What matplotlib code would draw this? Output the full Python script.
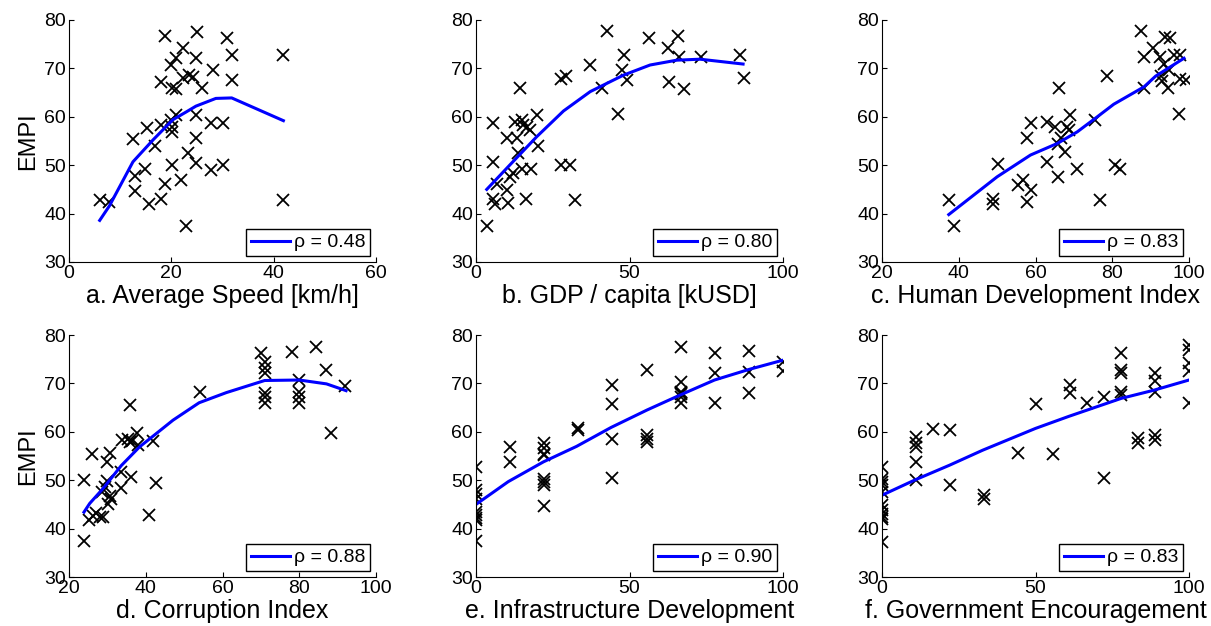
import matplotlib
matplotlib.use("Agg")
import matplotlib.pyplot as plt

plt.rcParams['font.family'] = ['Liberation Sans', 'DejaVu Sans']

# ---------------- data ----------------
a_x = [6.0, 7.9, 18.8, 25.0, 30.8, 22.3, 20.9, 24.8, 31.8, 41.9, 19.9, 28.2, 22.2, 23.5, 24.2,
       18.0, 31.8, 20.1, 20.9, 26.0, 20.9, 24.8, 19.9, 18.0, 27.7, 30.0, 15.3, 20.1, 20.1, 12.5,
       24.8, 16.9, 23.2, 14.9, 24.8, 20.1, 30.0, 27.7, 12.9, 21.9, 18.8, 12.9, 18.0, 15.7, 41.9, 22.9]
a_y = [42.9, 42.4, 76.6, 77.6, 76.3, 74.3, 72.1, 72.1, 72.8, 72.8, 70.7, 69.7, 68.1, 68.6, 68.3,
       67.2, 67.7, 66.0, 65.7, 65.9, 60.3, 60.3, 59.4, 58.3, 58.8, 58.8, 57.6, 57.8, 56.9, 55.5,
       55.7, 54.0, 52.6, 49.3, 50.5, 50.0, 50.1, 49.1, 47.8, 47.0, 46.2, 44.7, 43.0, 41.9, 42.9, 37.4]
a_fit_x = [6.0, 7.9, 12.5, 16.4, 20.3, 22.9, 24.8, 28.7, 31.8, 41.9]
a_fit_y = [38.6, 41.6, 50.7, 55.2, 59.4, 61.0, 62.2, 63.8, 63.9, 59.2]

b_x = [3.5, 5.4, 5.4, 5.4, 6.2, 6.7, 10.0, 10.0, 10.5, 11.1, 12.2, 12.7, 13.3, 13.8, 14.3,
       14.9, 15.4, 16.5, 17.6, 14.9, 16.2, 17.8, 20.0, 20.3, 27.7, 29.3, 27.7, 30.7, 32.3, 37.0,
       41.2, 42.6, 46.4, 47.7, 48.3, 49.1, 56.5, 62.7, 65.8, 66.0, 63.0, 67.6, 73.3, 85.9, 87.2]
b_y = [37.4, 58.8, 50.6, 43.0, 41.9, 46.2, 55.7, 44.8, 42.2, 47.6, 48.3, 59.0, 55.7, 52.6, 65.9,
       59.3, 58.3, 57.9, 57.2, 49.3, 43.0, 49.3, 60.3, 54.0, 67.9, 68.4, 50.0, 50.1, 42.9, 70.7,
       65.9, 77.7, 60.5, 69.7, 72.8, 67.6, 76.3, 74.3, 76.6, 72.3, 67.1, 65.7, 72.3, 72.8, 68.1]
b_fit_x = [3.5, 11.1, 19.8, 28.5, 37.2, 48.0, 56.7, 65.4, 73.0, 87.0]
b_fit_y = [45.0, 50.1, 55.9, 61.2, 65.2, 68.6, 70.7, 71.7, 71.9, 70.9]

c_x = [37.4, 38.7, 48.9, 48.9, 50.3, 55.5, 56.8, 57.7, 57.7, 58.7, 58.7, 62.9, 63.0, 65.0, 66.1,
       65.8, 65.8, 66.7, 67.8, 68.3, 69.0, 68.7, 70.9, 75.5, 76.8, 78.7, 80.7, 82.0, 87.4, 88.3,
       88.3, 90.7, 92.4, 92.6, 93.0, 93.5, 93.7, 95.0, 94.8, 94.5, 96.1, 97.7, 97.4, 97.7, 99.1]
c_y = [42.8, 37.4, 43.1, 41.9, 50.3, 46.0, 46.9, 55.7, 42.3, 44.8, 58.8, 59.0, 50.6, 57.9, 65.9,
       54.3, 47.6, 55.7, 52.8, 57.8, 60.3, 57.2, 49.3, 59.3, 42.9, 68.4, 50.1, 49.2, 77.8, 72.3,
       65.9, 74.3, 72.3, 68.4, 67.4, 71.0, 76.4, 76.3, 69.7, 65.9, 72.8, 72.8, 60.5, 67.9, 67.6]
c_fit_x = [37.4, 50.0, 58.7, 65.7, 70.9, 76.1, 80.4, 88.3, 91.3, 98.7]
c_fit_y = [39.8, 47.6, 52.1, 54.5, 56.9, 60.0, 62.6, 66.2, 68.4, 72.1]

d_x = [23.9, 23.8, 25.1, 26.0, 26.3, 27.0, 28.0, 28.9, 28.7, 29.5, 29.9, 29.9, 30.1, 30.6, 30.8,
       30.9, 33.6, 33.6, 33.9, 35.8, 35.4, 35.8, 36.3, 36.1, 37.8, 38.0, 40.9, 41.9, 42.8, 54.1,
       70.0, 71.1, 71.1, 71.1, 71.1, 71.1, 71.1, 78.0, 80.0, 80.0, 80.0, 80.0, 84.3, 87.0, 88.2, 91.9]
d_y = [37.4, 50.0, 41.7, 55.5, 42.6, 43.3, 42.4, 42.4, 47.6, 48.6, 53.8, 49.8, 45.1, 46.8, 55.7,
       46.2, 51.7, 48.3, 58.3, 65.5, 58.6, 57.8, 58.1, 50.7, 59.7, 57.2, 42.8, 58.0, 49.5, 68.3,
       76.3, 74.5, 73.1, 72.2, 68.0, 67.1, 65.9, 76.4, 70.7, 68.3, 67.1, 66.0, 77.6, 72.8, 59.7, 69.4]
d_fit_x = [23.9, 25.4, 28.9, 33.6, 38.4, 41.9, 47.1, 53.9, 61.0, 71.0, 80.0, 87.1, 92.2]
d_fit_y = [43.4, 45.2, 48.3, 53.0, 56.9, 59.1, 62.4, 66.0, 68.1, 70.6, 70.7, 69.9, 68.5]

e_x = [0, 0, 0, 0, 0, 0, 0, 0, 0, 11.1, 11.1, 22.2, 22.2, 22.2, 22.2, 22.2, 22.2, 22.2, 22.2,
       33.3, 33.3, 44.4, 44.4, 44.4, 44.4, 55.6, 55.6, 55.6, 55.6, 66.7, 66.7, 66.7, 66.7, 66.7,
       66.7, 66.7, 77.8, 77.8, 77.8, 88.9, 88.9, 88.9, 100, 100]
e_y = [52.8, 47.9, 47.2, 46.2, 43.4, 42.8, 42.1, 41.7, 37.4, 56.9, 53.8, 57.7, 56.7, 55.4, 55.2,
       50.3, 49.7, 49.0, 44.6, 60.7, 60.3, 69.7, 65.7, 58.6, 50.5, 72.8, 59.3, 58.6, 57.9, 77.6,
       70.3, 68.3, 67.8, 67.2, 65.9, 68.1, 76.3, 72.1, 65.9, 68.1, 76.6, 72.3, 74.5, 72.6]
e_fit_x = [0, 10.5, 22.0, 32.8, 44.0, 55.7, 66.5, 77.7, 89.0, 100]
e_fit_y = [45.0, 49.7, 53.8, 57.0, 60.9, 64.5, 67.6, 70.7, 72.9, 74.8]

f_x = [0, 0, 0, 0, 0, 0, 0, 0, 0, 0, 0, 11.1, 11.1, 11.1, 11.1, 11.1, 16.7, 22.2, 22.2, 33.3,
       33.3, 44.4, 50.0, 55.6, 61.1, 61.1, 66.7, 72.2, 72.2, 77.8, 77.8, 77.8, 77.8, 77.8, 83.3,
       83.3, 88.9, 88.9, 88.9, 88.9, 88.9, 100, 100, 100, 100, 100]
f_y = [52.8, 50.3, 49.7, 49.0, 47.6, 44.8, 43.8, 43.1, 42.4, 41.9, 37.2, 59.0, 57.6, 56.8, 53.8,
       50.1, 60.6, 60.3, 49.1, 46.9, 46.2, 55.7, 65.7, 55.4, 69.7, 68.1, 65.9, 67.1, 50.5, 76.3,
       72.8, 72.1, 68.3, 67.6, 58.8, 57.7, 72.2, 70.5, 68.3, 59.3, 58.4, 77.9, 76.9, 74.3, 72.6, 65.9]
f_fit_x = [0, 10.9, 22.0, 32.8, 50.0, 60.9, 77.9, 88.6, 100]
f_fit_y = [46.9, 50.1, 53.1, 56.2, 60.7, 63.2, 66.9, 68.6, 70.7]

rhos = ['0.48', '0.80', '0.83', '0.88', '0.90', '0.83']
xlabels = ['a. Average Speed [km/h]', 'b. GDP / capita [kUSD]', 'c. Human Development Index',
           'd. Corruption Index', 'e. Infrastructure Development', 'f. Government Encouragement']
xlims = [(0, 60), (0, 100), (20, 100), (20, 100), (0, 100), (0, 100)]
xticks = [[0, 20, 40, 60], [0, 50, 100], [20, 40, 60, 80, 100], [20, 40, 60, 80, 100],
          [0, 50, 100], [0, 50, 100]]
yticks = [30, 40, 50, 60, 70, 80]

panels = [(a_x, a_y, a_fit_x, a_fit_y), (b_x, b_y, b_fit_x, b_fit_y), (c_x, c_y, c_fit_x, c_fit_y),
          (d_x, d_y, d_fit_x, d_fit_y), (e_x, e_y, e_fit_x, e_fit_y), (f_x, f_y, f_fit_x, f_fit_y)]

# ---------------- figure ----------------
W, H = 1211, 626
fig = plt.figure(figsize=(W / 100, H / 100), dpi=100)
lefts = [69, 476, 882]
tops = [20, 335]
aw, ah = 307, 242

for i, (px, py, fx, fy) in enumerate(panels):
    r, c = divmod(i, 3)
    ax = fig.add_axes([lefts[c] / W, 1 - (tops[r] + ah) / H, aw / W, ah / H])
    ax.plot(px, py, linestyle='none', marker='x', color='black', markersize=8, markeredgewidth=1.3)
    ax.plot(fx, fy, color='blue', linewidth=2.2, label='\u03c1 = ' + rhos[i])
    ax.set_xlim(*xlims[i])
    ax.set_ylim(30, 80)
    ax.set_xticks(xticks[i])
    ax.set_yticks(yticks)
    for s in ['top', 'right']:
        ax.spines[s].set_visible(False)
    for s in ['left', 'bottom']:
        ax.spines[s].set_linewidth(0.8)
    ax.tick_params(direction='in', length=3.5, width=0.8, labelsize=14, pad=2)
    ax.set_xlabel(xlabels[i], fontsize=18, labelpad=1.5)
    if c == 0:
        ax.set_ylabel('EMPI', fontsize=17, labelpad=4)
    leg = ax.legend(loc='lower right', fontsize=14, frameon=True, fancybox=False,
                    edgecolor='black', framealpha=1, handlelength=2.0, handletextpad=0.2,
                    borderpad=0.25, borderaxespad=0.3)
    leg.get_frame().set_linewidth(1.0)

fig.savefig('out.png', dpi=100)
